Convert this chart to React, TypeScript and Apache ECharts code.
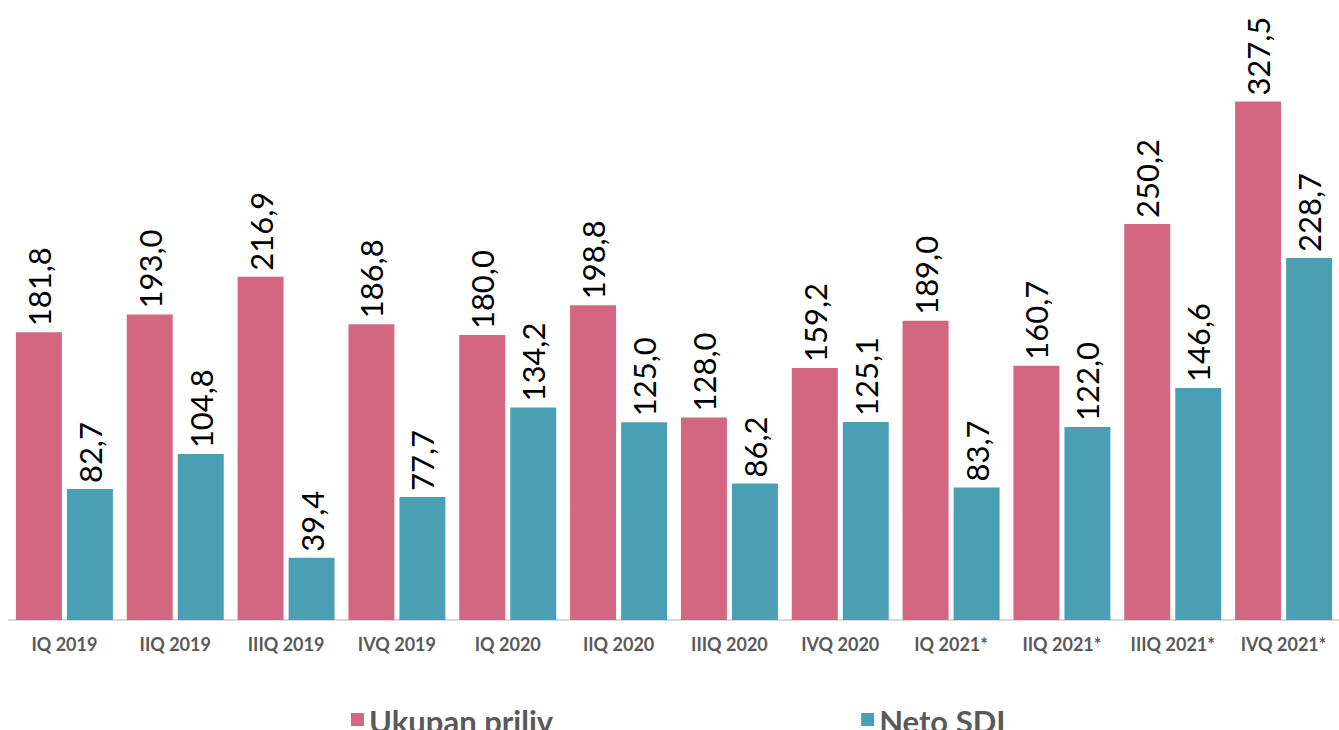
import React, { useEffect, useRef } from "react";
import * as echarts from "echarts";

const categories = [
  "IQ 2019", "IIQ 2019", "IIIQ 2019", "IVQ 2019",
  "IQ 2020", "IIQ 2020", "IIIQ 2020", "IVQ 2020",
  "IQ 2021*", "IIQ 2021*", "IIIQ 2021*", "IVQ 2021*",
];
const ukupanPriliv = [181.8, 193.0, 216.9, 186.8, 180.0, 198.8, 128.0, 159.2, 189.0, 160.7, 250.2, 327.5];
const netoSDI = [82.7, 104.8, 39.4, 77.7, 134.2, 125.0, 86.2, 125.1, 83.7, 122.0, 146.6, 228.7];

const FONT = "Lato, 'Open Sans', sans-serif";

export default function App() {
  const ref = useRef<HTMLDivElement>(null);
  useEffect(() => {
    if (!ref.current) return;
    const chart = echarts.init(ref.current, null, { renderer: "svg" });
    const label = {
      show: true,
      position: "top",
      rotate: 90,
      align: "left",
      verticalAlign: "middle",
      distance: 6,
      fontSize: 31,
      fontFamily: FONT,
      color: "#000",
      formatter: (p: any) => Number(p.value).toFixed(1).replace(".", ","),
    };
    chart.setOption({
      animation: false,
      textStyle: { fontFamily: FONT },
      grid: { left: 9, right: -5, top: 66, height: 554, containLabel: false },
      legend: {
        top: 705,
        left: 351,
        padding: 0,
        itemGap: 308,
        itemWidth: 13,
        itemHeight: 13,
        icon: "rect",
        formatter: "{t|{name}}",
        textStyle: {
          fontSize: 31,
          fontWeight: "bold",
          color: "#595959",
          fontFamily: FONT,
          rich: {
            t: {
              fontSize: 31,
              fontWeight: "bold",
              color: "#595959",
              fontFamily: FONT,
              padding: [2, 0, 0, 0],
            },
          },
        },
        data: ["Ukupan priliv", "Neto SDI"],
      },
      xAxis: {
        type: "category",
        data: categories,
        axisTick: { show: false },
        axisLine: { lineStyle: { color: "#D9D9D9", width: 2 } },
        axisLabel: { color: "#595959", fontWeight: "bold", fontSize: 18, margin: 15, fontFamily: FONT, interval: 0 },
      },
      yAxis: {
        type: "value",
        min: 0,
        max: 350,
        show: false,
        splitLine: { show: false },
      },
      series: [
        {
          name: "Ukupan priliv",
          type: "bar",
          data: ukupanPriliv,
          itemStyle: { color: "#D36681" },
          barGap: "11%",
          barCategoryGap: "12.5%",
          label,
        },
        {
          name: "Neto SDI",
          type: "bar",
          data: netoSDI,
          itemStyle: { color: "#4A9FB5" },
          label,
        },
      ],
    });
    return () => chart.dispose();
  }, []);
  return (
    <div
      ref={ref}
      style={{ position: "fixed", left: 0, top: 0, width: 1339, height: 730, background: "#fff" }}
    />
  );
}
